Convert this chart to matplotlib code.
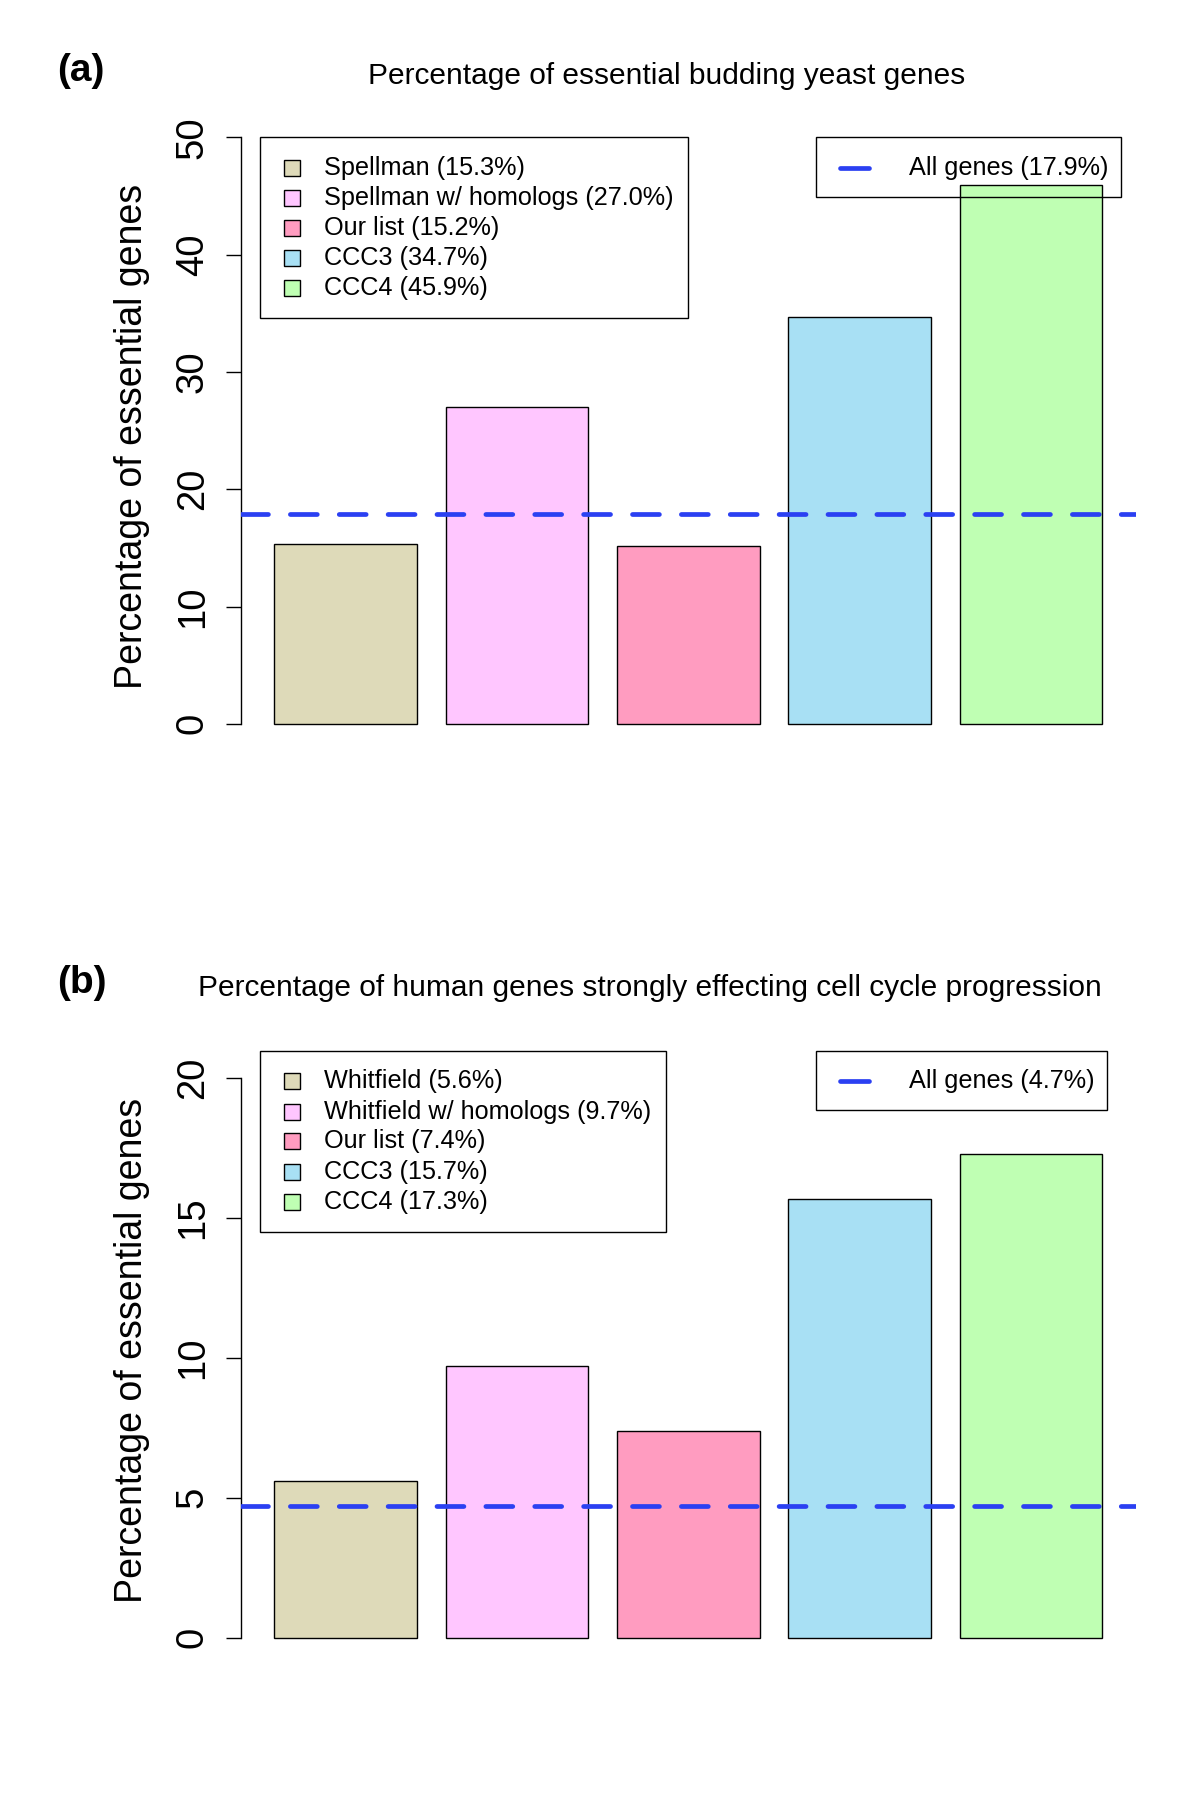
import matplotlib
matplotlib.use("Agg")
import matplotlib.pyplot as plt
from matplotlib.patches import Rectangle
from matplotlib.lines import Line2D

plt.rcParams['font.family'] = ['Liberation Sans', 'DejaVu Sans']

# ---------------- data ----------------
colors = ["#DEDAB9", "#FFC6FF", "#FF9CC0", "#A8E0F4", "#BFFFB3"]

yeast_labels = ["Spellman", "Spellman w/ homologs", "Our list", "CCC3", "CCC4"]
yeast_values = [15.3, 27.0, 15.2, 34.7, 45.9]
yeast_all = 17.9
yeast_title = "Percentage of essential budding yeast genes"
yeast_ticks = [0, 10, 20, 30, 40, 50]

human_labels = ["Whitfield", "Whitfield w/ homologs", "Our list", "CCC3", "CCC4"]
human_values = [5.6, 9.7, 7.4, 15.7, 17.3]
human_all = 4.7
human_title = "Percentage of human genes strongly effecting cell cycle progression"
human_ticks = [0, 5, 10, 15, 20]

ylabel = "Percentage of essential genes"

W, H = 1200, 1793
fig = plt.figure(figsize=(W / 100, H / 100), dpi=100)

def fx(x):
    return x / W

def fy(y):
    return 1 - y / H

LINE_BLUE = "#2B40F2"
LW = 3.4

def panel(top_px, bottom_px, ymax, values, labels, allval, ticks, title, letter,
          title_y, title_x, letter_y, leg1, leg2, ylab_y):
    left_px, right_px = 241.3, 1135.5
    ax = fig.add_axes([fx(left_px), fy(bottom_px), (right_px - left_px) / W,
                       (bottom_px - top_px) / H])
    pos = [0.7 + 1.2 * i for i in range(len(values))]
    ax.bar(pos, values, width=1.0, color=colors, edgecolor="black", linewidth=1.0, zorder=2)
    ax.axhline(allval, color=LINE_BLUE, lw=LW, dashes=(5.7, 4.65),
               dash_capstyle="round", zorder=3)
    ax.set_xlim(-0.032, 6.232)
    ext = 0.04 * ymax
    ax.set_ylim(-ext, ymax + ext)
    for s in ["top", "right", "bottom"]:
        ax.spines[s].set_visible(False)
    ax.spines["left"].set_bounds(0, ymax)
    ax.spines["left"].set_linewidth(1.0)
    ax.set_xticks([])
    ax.set_yticks(ticks)
    ax.set_yticklabels([str(t) for t in ticks], rotation=90, va="center", fontsize=27.5)
    ax.tick_params(axis="y", length=11, width=1.0, pad=11)
    ax.patch.set_alpha(0)

    fig.text(fx(131.5), fy(ylab_y), ylabel, rotation=90, ha="center", va="center", fontsize=27)
    fig.text(fx(title_x), fy(title_y), title, ha="center", va="center", fontsize=21.5)
    fig.text(fx(57), fy(letter_y), letter, ha="left", va="center", fontsize=28, fontweight="bold")

    # legend 1 (bars)
    bx0, bx1, by0, by1, rows = leg1
    fig.patches.append(Rectangle((fx(bx0), fy(by1)), (bx1 - bx0) / W, (by1 - by0) / H,
                                 transform=fig.transFigure, facecolor="none",
                                 edgecolor="black", linewidth=1.0, zorder=5))
    for lab, val, col, ry in zip(labels, values, colors, rows):
        s = 16
        fig.patches.append(Rectangle((fx(291.6 - s / 2), fy(ry + s / 2)), s / W, s / H,
                                     transform=fig.transFigure, facecolor=col,
                                     edgecolor="black", linewidth=1.0, zorder=6))
        fig.text(fx(323.6), fy(ry), f"{lab} ({val:.1f}%)", ha="left", va="center",
                 fontsize=18.2, zorder=7)

    # legend 2 (all genes line)
    cx0, cx1, cy0, cy1, ry = leg2
    fig.patches.append(Rectangle((fx(cx0), fy(cy1)), (cx1 - cx0) / W, (cy1 - cy0) / H,
                                 transform=fig.transFigure, facecolor="none",
                                 edgecolor="black", linewidth=1.0, zorder=5))
    fig.lines.append(Line2D([fx(840), fx(869)], [fy(ry), fy(ry)], transform=fig.transFigure,
                            color=LINE_BLUE, lw=LW, solid_capstyle="round", zorder=6))
    fig.text(fx(909), fy(ry), f"All genes ({allval:.1f}%)", ha="left", va="center",
             fontsize=18.2, zorder=7)
    return ax

ax_a = panel(113.8, 747.3, 50, yeast_values, yeast_labels, yeast_all, yeast_ticks,
             yeast_title, "(a)", 75.5, 667, 71,
             (259.6, 688.4, 137.2, 317.9, [168.1, 197.8, 227.6, 258.4, 288.2]),
             (816.4, 1120.6, 137.2, 196.7, 168.1), 436.8)

ax_b = panel(1055.9, 1659.9, 20, human_values, human_labels, human_all, human_ticks,
             human_title, "(b)", 988, 650, 983,
             (259.6, 665.5, 1050.9, 1231.5, [1080.6, 1111.5, 1141.2, 1172.1, 1201.8]),
             (816.4, 1106.9, 1050.9, 1110.3, 1080.6), 1350.5)

fig.savefig("out.png", dpi=100)
